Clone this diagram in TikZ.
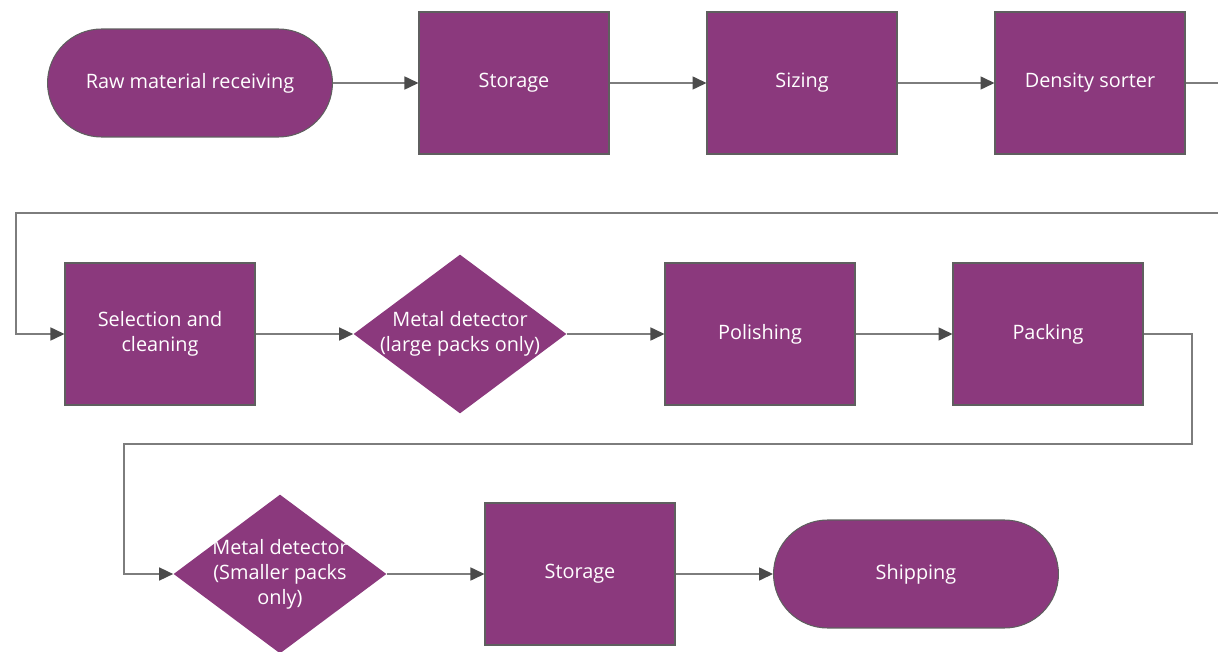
\documentclass[tikz,border=0pt]{standalone}
\usepackage{fontspec}
\setmainfont{Open Sans}
\usepackage{tikz}
\usetikzlibrary{arrows.meta}
\usetikzlibrary{shapes.geometric,shapes.misc}
\definecolor{plum}{RGB}{139,57,125}
\definecolor{edgegray}{RGB}{95,95,95}
\definecolor{linegray}{RGB}{125,125,125}
\definecolor{tipgray}{RGB}{75,75,75}
\tikzset{
  stepbox/.style={draw=edgegray, line width=0.6pt, fill=plum, text=white,
    minimum width=3.8cm, minimum height=2.84cm, align=center, inner sep=2pt},
  endbox/.style={rounded rectangle, draw=edgegray, line width=0.6pt, fill=plum,
    text=white, minimum width=5.84cm, minimum height=2.16cm, inner sep=2pt},
  decision/.style={diamond, fill=plum, minimum width=4.26cm, minimum height=3.18cm,
    inner sep=0pt},
  lbl/.style={text=white, align=center, font=\fontsize{11.3}{14.2}\selectfont},
  flow/.style={draw=linegray, line width=0.9pt,
    -{Triangle[length=0.28cm, width=0.26cm, color=tipgray]}}
}

\begin{document}
\begin{tikzpicture}[x=0.02cm, y=-0.02cm, font=\fontsize{11.3}{14.2}\selectfont]
  \useasboundingbox (0,0) rectangle (1218,652);
  % first row
  \node[endbox] (recv) at (190,83) {Raw material receiving};
  \node[stepbox] (store) at (514,83) {Storage};
  \node[stepbox] (sizing) at (802,83) {Sizing};
  \node[stepbox] (sorter) at (1090,83) {Density sorter};
  % second row
  \node[stepbox] (clean) at (160,334) {Selection and\\cleaning};
  \node[decision, label={[lbl]center:Metal detector\\(large packs only)}] (metal) at (460,334) {};
  \node[stepbox] (polish) at (760,334) {Polishing};
  \node[stepbox] (pack) at (1048,334) {Packing};
  % third row
  \node[decision, label={[lbl]center:Metal detector\\(Smaller packs\\only)}] (metalb) at (280,574) {};
  \node[stepbox] (storeb) at (580,574) {Storage};
  \node[endbox] (ship) at (916,574) {Shipping};
  % bends
  \coordinate (r1) at (1219,83);
  \coordinate (r2) at (1219,213);
  \coordinate (l1) at (16,213);
  \coordinate (r3) at (1192,334);
  \coordinate (r4) at (1192,444);
  \coordinate (l2) at (124,444);
  \draw[flow] (recv) -- (store);
  \draw[flow] (store) -- (sizing);
  \draw[flow] (sizing) -- (sorter);
  \draw[flow] (sorter.east) -- (r1) -- (r2) -- (l1) |- (clean.west);
  \draw[flow] (clean) -- (metal);
  \draw[flow] (metal) -- (polish);
  \draw[flow] (polish) -- (pack);
  \draw[flow] (pack.east) -- (r3) -- (r4) -- (l2) |- (metalb.west);
  \draw[flow] (metalb) -- (storeb);
  \draw[flow] (storeb) -- (ship);
\end{tikzpicture}
\end{document}
